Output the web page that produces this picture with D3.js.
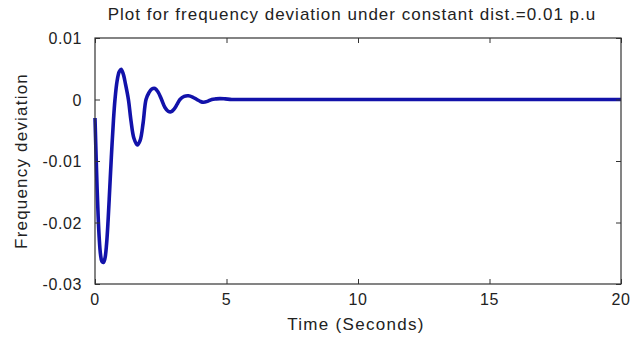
<!DOCTYPE html>
<html>
<head>
<meta charset="utf-8">
<script src="https://cdn.jsdelivr.net/npm/d3@7"></script>
<style>
  html, body { margin: 0; padding: 0; background: #fff; }
  text { font-family: "Liberation Sans", Arial, sans-serif; fill: #222; }
</style>
</head>
<body>
<div id="chart"></div>
<script>
// values
const timeSec = [0, 0.04, 0.08, 0.12, 0.16, 0.21, 0.26, 0.32, 0.38, 0.44, 0.5, 0.56, 0.62, 0.7, 0.76, 0.84, 0.92, 0.99, 1.07, 1.16, 1.27, 1.37, 1.48, 1.61, 1.72, 1.83, 1.94, 2.05, 2.16, 2.28, 2.4, 2.53, 2.66, 2.78, 2.89, 3.0, 3.12, 3.23, 3.39, 3.55, 3.71, 3.87, 4.0, 4.12, 4.28, 4.44, 4.6, 4.75, 4.95, 5.2, 5.6, 6, 8, 10, 12, 14, 16, 18, 20];
const freqDev = [-0.003, -0.009, -0.0145, -0.019, -0.0225, -0.0252, -0.0263, -0.0265, -0.0258, -0.0235, -0.0195, -0.0145, -0.0095, -0.0035, 0, 0.003, 0.0045, 0.0049, 0.0042, 0.0025, 0, -0.0035, -0.0063, -0.0074, -0.0066, -0.0038, 0, 0.0011, 0.0017, 0.0018, 0.0012, 0, -0.0013, -0.0019, -0.002, -0.0016, -0.0008, 0, 0.0005, 0.0006, 0.0004, 0, -0.0003, -0.00045, -0.0003, 0, 0.0001, 0.00015, 0.0001, 0, 0, 0, 0, 0, 0, 0, 0, 0, 0];
const xTicks = [0, 5, 10, 15, 20];
const yTicks = [0.01, 0, -0.01, -0.02, -0.03];

const width = 643, height = 343;
const margin = { left: 95, right: 22, top: 38, bottom: 59 };

const svg = d3.select("#chart").append("svg")
  .attr("width", width)
  .attr("height", height);

const x = d3.scaleLinear().domain([0, 20]).range([margin.left, width - margin.right]);
const y = d3.scaleLinear().domain([-0.03, 0.01]).range([height - margin.bottom, margin.top]);

const fmtY = d => d === 0 ? "0" : d3.format(".2f")(d).replace("−", "-");

// plot line
const line = d3.line()
  .x((d, i) => x(timeSec[i]))
  .y(d => y(d))
  .curve(d3.curveCatmullRom);

svg.append("path")
  .datum(freqDev)
  .attr("d", line)
  .attr("fill", "none")
  .attr("stroke", "#1212aa")
  .attr("stroke-width", 3.6)
  .attr("stroke-linejoin", "round");

// box + inward ticks like matlab
const axisColor = "#333";
const tl = 5;
svg.append("g").attr("transform", `translate(0,${y(-0.03)})`)
  .call(d3.axisTop(x).tickValues(xTicks).tickSize(tl).tickFormat(""))
  .call(g => g.select(".domain").remove());
svg.append("g").attr("transform", `translate(0,${y(0.01)})`)
  .call(d3.axisBottom(x).tickValues(xTicks).tickSize(tl).tickFormat(""))
  .call(g => g.select(".domain").remove());
svg.append("g").attr("transform", `translate(${x(0)},0)`)
  .call(d3.axisRight(y).tickValues(yTicks).tickSize(tl).tickFormat(""))
  .call(g => g.select(".domain").remove());
svg.append("g").attr("transform", `translate(${x(20)},0)`)
  .call(d3.axisLeft(y).tickValues(yTicks).tickSize(tl).tickFormat(""))
  .call(g => g.select(".domain").remove());
svg.selectAll(".tick line").attr("stroke", axisColor);

svg.append("rect")
  .attr("x", x(0)).attr("y", y(0.01))
  .attr("width", x(20) - x(0)).attr("height", y(-0.03) - y(0.01))
  .attr("fill", "none").attr("stroke", axisColor).attr("stroke-width", 1.2);

// tick labels
svg.append("g").selectAll("text").data(xTicks).join("text")
  .attr("x", d => x(d)).attr("y", y(-0.03) + 21)
  .attr("text-anchor", "middle")
  .style("font-size", "16px").style("letter-spacing", "0.6px")
  .text(d => d);

svg.append("g").selectAll("text").data(yTicks).join("text")
  .attr("x", x(0) - 13).attr("y", d => y(d) + 6)
  .attr("text-anchor", "end")
  .style("font-size", "16px").style("letter-spacing", "0.6px")
  .text(fmtY);

// titles
svg.append("text")
  .attr("x", 352).attr("y", 20)
  .attr("text-anchor", "middle")
  .style("font-size", "17px").style("letter-spacing", "1px")
  .text("Plot for frequency deviation under constant dist.=0.01 p.u");

svg.append("text")
  .attr("x", 356).attr("y", 330)
  .attr("text-anchor", "middle")
  .style("font-size", "17px").style("letter-spacing", "1.3px")
  .text("Time (Seconds)");

svg.append("text")
  .attr("transform", `translate(27,161) rotate(-90)`)
  .attr("text-anchor", "middle")
  .style("font-size", "17px").style("letter-spacing", "1.2px")
  .text("Frequency deviation");
</script>
</body>
</html>
